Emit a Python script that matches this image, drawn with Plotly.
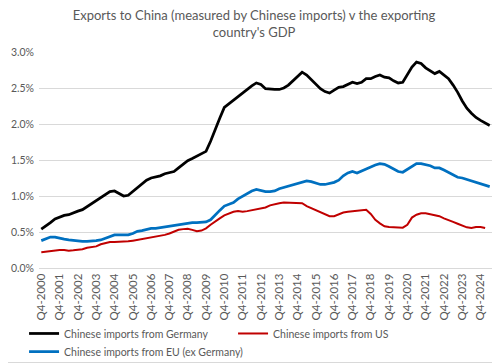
import plotly.graph_objects as go

# Quarterly categories Q4-2000 .. Q2-2025
quarters = ["Q4-2000"]
for yr in range(2001, 2026):
    for q in range(1, 5):
        quarters.append(f"Q{q}-{yr}")
quarters = quarters[:99]
tick_labels = [f"Q4-{y}" for y in range(2000, 2025)]
y_ticks = [0, 0.5, 1.0, 1.5, 2.0, 2.5, 3.0]
y_tick_text = ["0.0%", "0.5%", "1.0%", "1.5%", "2.0%", "2.5%", "3.0%"]

germany = [0.54, 0.58, 0.63, 0.68, 0.71, 0.73, 0.74, 0.77, 0.79, 0.81,
           0.85, 0.89, 0.93, 0.97, 1.02, 1.06, 1.07, 1.04, 1.00, 1.01,
           1.06, 1.12, 1.17, 1.22, 1.25, 1.26, 1.28, 1.31, 1.32, 1.34,
           1.39, 1.44, 1.49, 1.52, 1.55, 1.58, 1.62, 1.76, 1.93, 2.08,
           2.23, 2.28, 2.33, 2.38, 2.43, 2.49, 2.53, 2.57, 2.55, 2.49,
           2.48, 2.48, 2.48, 2.50, 2.54, 2.60, 2.67, 2.72, 2.68, 2.62,
           2.55, 2.49, 2.45, 2.43, 2.47, 2.51, 2.52, 2.55, 2.58, 2.56,
           2.58, 2.63, 2.63, 2.66, 2.68, 2.65, 2.64, 2.60, 2.57, 2.58,
           2.68, 2.79, 2.86, 2.84, 2.78, 2.74, 2.70, 2.73, 2.68, 2.63,
           2.54, 2.44, 2.32, 2.22, 2.15, 2.09, 2.05, 2.02, 1.98]

us = [0.22, 0.23, 0.24, 0.25, 0.25, 0.25, 0.24, 0.245, 0.25, 0.26,
      0.28, 0.29, 0.30, 0.33, 0.35, 0.36, 0.36, 0.36, 0.36, 0.37,
      0.38, 0.39, 0.40, 0.41, 0.43, 0.44, 0.45, 0.46, 0.48, 0.51,
      0.53, 0.54, 0.545, 0.53, 0.51, 0.52, 0.55, 0.60, 0.65, 0.69,
      0.73, 0.76, 0.78, 0.79, 0.78, 0.79, 0.80, 0.81, 0.82, 0.84,
      0.87, 0.89, 0.90, 0.91, 0.905, 0.90, 0.90, 0.90, 0.86, 0.83,
      0.81, 0.78, 0.75, 0.72, 0.72, 0.75, 0.77, 0.78, 0.79, 0.80,
      0.81, 0.81, 0.75, 0.67, 0.62, 0.58, 0.57, 0.565, 0.555, 0.56,
      0.60, 0.70, 0.74, 0.76, 0.76, 0.75, 0.73, 0.72, 0.69, 0.66,
      0.64, 0.615, 0.59, 0.565, 0.555, 0.57, 0.57, 0.555]

eu_ex_germany = [0.38, 0.41, 0.43, 0.43, 0.41, 0.40, 0.39, 0.38, 0.38, 0.37,
                 0.37, 0.37, 0.38, 0.39, 0.41, 0.44, 0.46, 0.46, 0.46, 0.46,
                 0.48, 0.51, 0.52, 0.54, 0.55, 0.55, 0.56, 0.58, 0.59, 0.59,
                 0.60, 0.61, 0.62, 0.63, 0.63, 0.63, 0.64, 0.67, 0.74, 0.80,
                 0.86, 0.89, 0.91, 0.96, 1.00, 1.04, 1.07, 1.09, 1.07, 1.06,
                 1.06, 1.07, 1.10, 1.12, 1.14, 1.16, 1.18, 1.20, 1.21, 1.20,
                 1.18, 1.16, 1.16, 1.17, 1.19, 1.22, 1.28, 1.32, 1.34, 1.32,
                 1.35, 1.38, 1.40, 1.43, 1.45, 1.44, 1.41, 1.37, 1.34, 1.33,
                 1.37, 1.42, 1.45, 1.45, 1.44, 1.42, 1.39, 1.39, 1.36, 1.33,
                 1.29, 1.26, 1.25, 1.23, 1.22, 1.20, 1.18, 1.16, 1.13]

FONT = "Lato"
GREY = "#595959"

fig = go.Figure()
fig.add_trace(go.Scatter(x=quarters[:len(germany)], y=germany, mode="lines",
                         name="Chinese imports from Germany", legend="legend",
                         line=dict(color="#000000", width=2.75)))
fig.add_trace(go.Scatter(x=quarters[:len(us)], y=us, mode="lines",
                         name="Chinese imports from US", legend="legend",
                         line=dict(color="#C00000", width=2)))
fig.add_trace(go.Scatter(x=quarters[:len(eu_ex_germany)], y=eu_ex_germany, mode="lines",
                         name="Chinese imports from EU (ex Germany)", legend="legend2",
                         line=dict(color="#0070C0", width=2.75)))

legend_style = dict(orientation="h", x=-0.033, xanchor="left",
                    yanchor="top", yref="paper", itemwidth=30,
                    font=dict(family=FONT, size=10.5, color=GREY),
                    traceorder="normal", bgcolor="rgba(0,0,0,0)")

# page body has an 8px default margin, so the figure is 8px smaller
W, H = 492, 355
fig.update_layout(
    width=W, height=H, autosize=False,
    margin=dict(l=31, r=8, t=44, b=95, autoexpand=False),
    paper_bgcolor="white", plot_bgcolor="white",
    font=dict(family=FONT, color=GREY, size=11),
    title=dict(text="Exports to China (measured by Chinese imports) v the exporting<br>country's GDP",
               x=0.5, xanchor="center", xref="container",
               y=0.966, yanchor="top", yref="container",
               font=dict(family=FONT, size=13, color=GREY)),
    showlegend=True,
    legend=dict(legend_style, y=-0.236, entrywidth=164, entrywidthmode="pixels"),
    legend2=dict(legend_style, y=-0.32),
    xaxis=dict(type="category", categoryorder="array", categoryarray=quarters,
               range=[-0.5, len(quarters) - 0.5],
               tickmode="array", tickvals=tick_labels, ticktext=tick_labels,
               tickangle=-90, showgrid=False, showline=True, linecolor="#d9d9d9",
               ticks="", tickfont=dict(size=11.5, color=GREY), fixedrange=True),
    yaxis=dict(range=[0, 3.0], tickmode="array", tickvals=y_ticks, ticktext=y_tick_text,
               showgrid=True, gridcolor="#d9d9d9",
               gridwidth=1, zeroline=False, showline=False, ticks="",
               ticklabelstandoff=4,
               tickfont=dict(size=10.5, color=GREY)),
)

# chart border (right and bottom edges visible in the window)
fig.add_shape(type="line", xref="paper", yref="paper",
              x0=(491.5 - 31) / 453, x1=(491.5 - 31) / 453,
              y0=-(354.5 - 260) / 216, y1=1 + 44 / 216,
              line=dict(color="#d9d9d9", width=1))
fig.add_shape(type="line", xref="paper", yref="paper",
              x0=-31 / 453, x1=(491.5 - 31) / 453,
              y0=-(354.5 - 260) / 216, y1=-(354.5 - 260) / 216,
              line=dict(color="#d9d9d9", width=1))

fig.write_html("out.html")
